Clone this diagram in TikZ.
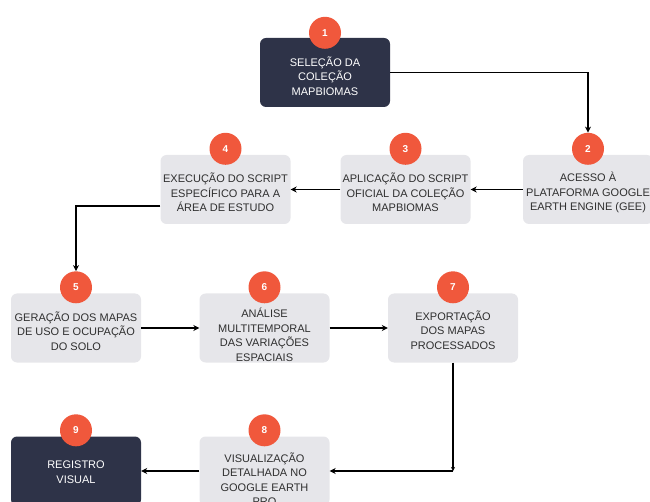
\documentclass[tikz,border=0pt]{standalone}
\usepackage{fontspec}
\setmainfont{Liberation Sans}
\usetikzlibrary{arrows.meta,positioning}
\definecolor{navy}{HTML}{2E3348}
\definecolor{boxgray}{HTML}{E6E6EA}
\definecolor{badge}{HTML}{F0583C}
\definecolor{txtgray}{HTML}{2F2F2F}
\tikzset{
  etapa/.style={rounded corners=6pt, fill=boxgray, minimum width=130pt,
    minimum height=69pt, inner sep=0pt},
  etapaesc/.style={etapa, fill=navy},
  texto/.style={align=center, text=txtgray, inner sep=0pt,
    font=\fontsize{11}{14.5}\selectfont},
  textoesc/.style={texto, text=white},
  num/.style={circle, fill=badge, text=white, minimum size=32pt, inner sep=0pt,
    font=\fontsize{10}{12}\selectfont\bfseries},
  seta/.style={-{Stealth[length=6pt,width=6pt]}, line width=1.4pt, black}
}

\begin{document}
\begin{tikzpicture}[x=1pt,y=-1pt]
\useasboundingbox (0,0) rectangle (650,502);
\clip (0,0) rectangle (650,502);

% Etapas
\node[etapaesc] (s1) at (325,72.5) {};
\node[etapa] (s2) at (588,189.5) {};
\node[etapa] (s3) at (405.5,189.5) {};
\node[etapa] (s4) at (225.5,189.5) {};
\node[etapa] (s5) at (76,328) {};
\node[etapa] (s6) at (264.5,328) {};
\node[etapa] (s7) at (453,328) {};
\node[etapa] (s8) at (264.5,471) {};
\node[etapaesc] (s9) at (76,471) {};

% Textos
\node[textoesc] (t1) at ([yshift=-3.5pt]s1.center) {SELEÇÃO DA\\COLEÇÃO\\MAPBIOMAS};
\node[texto] (t2) at ([yshift=-3pt]s2.center) {ACESSO À\\PLATAFORMA GOOGLE\\EARTH ENGINE (GEE)};
\node[texto] (t3) at ([yshift=-3pt]s3.center) {APLICAÇÃO DO SCRIPT\\OFICIAL DA COLEÇÃO\\MAPBIOMAS};
\node[texto] (t4) at ([yshift=-3pt]s4.center) {EXECUÇÃO DO SCRIPT\\ESPECÍFICO PARA A\\ÁREA DE ESTUDO};
\node[texto] (t5) at ([yshift=-3pt]s5.center) {GERAÇÃO DOS MAPAS\\DE USO E OCUPAÇÃO\\DO SOLO};
\node[texto] (t6) at ([yshift=-7pt]s6.center) {ANÁLISE\\MULTITEMPORAL\\DAS VARIAÇÕES\\ESPACIAIS};
\node[texto] (t7) at ([yshift=-2pt]s7.center) {EXPORTAÇÃO\\DOS MAPAS\\PROCESSADOS};
\node[texto] (t8) at ([yshift=-8pt]s8.center) {VISUALIZAÇÃO\\DETALHADA NO\\GOOGLE EARTH\\PRO};
\node[textoesc] (t9) at ([yshift=-1pt]s9.center) {REGISTRO\\VISUAL};

% Numeração
\node[num] (n1) at ([yshift=5pt]s1.north) {1};
\node[num] (n2) at ([yshift=6pt]s2.north) {2};
\node[num] (n3) at ([yshift=6pt]s3.north) {3};
\node[num] (n4) at ([yshift=6pt]s4.north) {4};
\node[num] (n5) at ([yshift=6pt]s5.north) {5};
\node[num] (n6) at ([yshift=6pt]s6.north) {6};
\node[num] (n7) at ([yshift=6pt]s7.north) {7};
\node[num] (n8) at ([yshift=6pt]s8.north) {8};
\node[num] (n9) at ([yshift=6pt]s9.north) {9};

% Fluxo
\draw[seta] (s1.east) -| (n2.north);
\draw[seta] (s2.west) -- (s3.east);
\draw[seta] (s3.west) -- (s4.east);
\draw[seta] ([yshift=-16.5pt]s4.west) -| (n5.north);
\draw[seta] (s5.east) -- (s6.west);
\draw[seta] (s6.east) -- (s7.west);
\coordinate (c78) at (s7.south |- s8.east);
\draw[-{Stealth[length=4pt,width=4pt]}, line width=1.4pt] (s7.south) -- (c78);
\draw[seta] (c78) -- (s8.east);
\draw[seta] (s8.west) -- (s9.east);
\end{tikzpicture}
\end{document}
